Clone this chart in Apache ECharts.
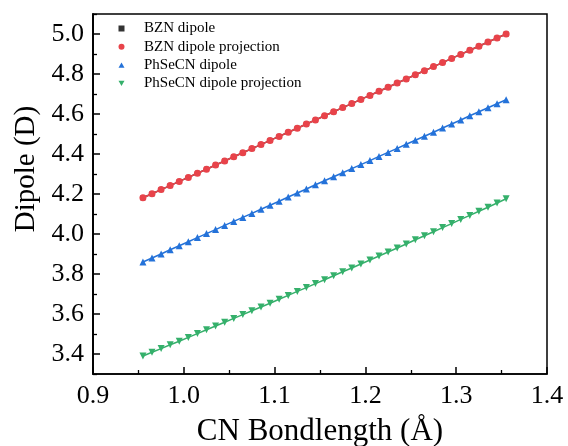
<!DOCTYPE html>
<html>
<head>
<meta charset="utf-8">
<script src="https://cdn.jsdelivr.net/npm/echarts@6/dist/echarts.min.js"></script>
<style>html,body{margin:0;padding:0;background:#fff}#c{width:568px;height:446px}</style>
</head>
<body>
<div id="c"></div>
<script>
const bondLength = [0.955,0.965,0.975,0.985,0.995,1.005,1.015,1.025,1.035,1.045,1.055,1.065,1.075,1.085,1.095,1.105,1.115,1.125,1.135,1.145,1.155,1.165,1.175,1.185,1.195,1.205,1.215,1.225,1.235,1.245,1.255,1.265,1.275,1.285,1.295,1.305,1.315,1.325,1.335,1.345,1.355];
const bznDipole = [4.181,4.201,4.222,4.242,4.263,4.283,4.304,4.324,4.345,4.365,4.386,4.406,4.427,4.447,4.468,4.488,4.509,4.529,4.550,4.570,4.591,4.611,4.632,4.652,4.673,4.693,4.714,4.734,4.755,4.775,4.796,4.816,4.837,4.857,4.878,4.898,4.919,4.939,4.960,4.980,5.000];
const bznProjection = [4.181,4.201,4.222,4.242,4.263,4.283,4.304,4.324,4.345,4.365,4.386,4.406,4.427,4.447,4.468,4.488,4.509,4.529,4.550,4.570,4.591,4.611,4.632,4.652,4.673,4.693,4.714,4.734,4.755,4.775,4.796,4.816,4.837,4.857,4.878,4.898,4.919,4.939,4.960,4.980,5.000];
const phsecnDipole = [3.860,3.880,3.900,3.921,3.941,3.961,3.982,4.002,4.022,4.043,4.063,4.083,4.103,4.124,4.144,4.164,4.185,4.205,4.225,4.246,4.266,4.286,4.306,4.327,4.347,4.367,4.388,4.408,4.428,4.449,4.469,4.489,4.509,4.530,4.550,4.570,4.591,4.611,4.631,4.651,4.671];
const phsecnProjection = [3.390,3.409,3.427,3.446,3.464,3.483,3.502,3.521,3.540,3.559,3.578,3.597,3.616,3.635,3.654,3.674,3.693,3.713,3.732,3.752,3.771,3.791,3.811,3.830,3.850,3.870,3.890,3.910,3.930,3.950,3.971,3.991,4.011,4.032,4.052,4.073,4.093,4.114,4.134,4.155,4.176];
const xTicks = [0.9,1.0,1.1,1.2,1.3,1.4];
const yTicks = [3.4,3.6,3.8,4.0,4.2,4.4,4.6,4.8,5.0];
const yMinorTicks = [3.3,3.5,3.7,3.9,4.1,4.3,4.5,4.7,4.9,5.1];
const seriesNames = ['BZN dipole','BZN dipole projection','PhSeCN dipole','PhSeCN dipole projection'];

const serif = 'Liberation Serif, Times New Roman, serif';
const pair = (ys) => bondLength.map((x, i) => [x, ys[i]]);
const downTri = 'path://M0,0 L10,0 L5,9 Z';
const upTri = 'path://M5,0 L10,9 L0,9 Z';
const square = 'path://M0,0 L10,0 L10,10 L0,10 Z';

const chart = echarts.init(document.getElementById('c'), null, {renderer: 'canvas'});
chart.setOption({
  animation: false,
  backgroundColor: '#fff',
  grid: {left: 93, right: 21, top: 14, bottom: 72, show: true, borderColor: '#000', borderWidth: 1.5,
         backgroundColor: 'transparent', containLabel: false, outerBoundsMode: 'none'},
  legend: {
    orient: 'vertical', left: 113.5, top: 16,
    itemWidth: 6, itemHeight: 6, itemGap: 3.3,
    textStyle: {fontFamily: serif, fontSize: 15, color: '#000', lineHeight: 15, padding: [0, 0, 0, 14.5]},
    data: [
      {name: seriesNames[0], icon: square},
      {name: seriesNames[1], icon: 'circle'},
      {name: seriesNames[2], icon: upTri},
      {name: seriesNames[3], icon: downTri}
    ]
  },
  xAxis: {
    type: 'value', min: 0.9, max: 1.4, interval: 0.1,
    name: 'CN Bondlength (Å)', nameLocation: 'middle', nameGap: 42,
    nameTextStyle: {fontFamily: serif, fontSize: 31, color: '#000'},
    axisLine: {show: true, lineStyle: {color: '#000', width: 1.5}},
    axisTick: {show: true, inside: true, length: 7, lineStyle: {color: '#000', width: 1.5}},
    minorTick: {show: true, splitNumber: 2, length: 4, lineStyle: {color: '#000', width: 1.3}},
    axisLabel: {fontFamily: serif, fontSize: 26, color: '#000', margin: 9, formatter: v => v.toFixed(1)},
    splitLine: {show: false}
  },
  yAxis: [{
    type: 'value', min: 3.3, max: 5.1,
    name: 'Dipole (D)', nameLocation: 'middle', nameGap: 52,
    nameTextStyle: {fontFamily: serif, fontSize: 29, color: '#000', padding: [0, 0, 0, 50]},
    axisLine: {show: true, lineStyle: {color: '#000', width: 1.5}},
    axisTick: {show: true, inside: true, length: 7, lineStyle: {color: '#000', width: 1.5}, customValues: yTicks},
    axisLabel: {fontFamily: serif, fontSize: 26, color: '#000', margin: 9, formatter: v => v.toFixed(1), customValues: yTicks},
    splitLine: {show: false}
  }, {
    type: 'value', min: 3.3, max: 5.1, position: 'left', offset: 0,
    axisLine: {show: true, lineStyle: {color: '#000', width: 1.5}},
    axisTick: {show: true, inside: true, length: 4, lineStyle: {color: '#000', width: 1.3}, customValues: yMinorTicks},
    axisLabel: {show: false, customValues: yMinorTicks},
    splitLine: {show: false}
  }],
  series: [
    {name: seriesNames[0], type: 'line', data: pair(bznDipole), symbol: 'rect', symbolSize: 5,
     itemStyle: {color: '#333333'}, lineStyle: {color: '#333333', width: 1.5}},
    {name: seriesNames[1], type: 'line', data: pair(bznProjection), symbol: 'circle', symbolSize: 7,
     itemStyle: {color: '#e8434a'}, lineStyle: {color: '#e8434a', width: 1.5}},
    {name: seriesNames[2], type: 'line', data: pair(phsecnDipole), symbol: 'triangle', symbolSize: 7,
     itemStyle: {color: '#2472d9'}, lineStyle: {color: '#2472d9', width: 1.5}},
    {name: seriesNames[3], type: 'line', data: pair(phsecnProjection), symbol: 'triangle', symbolRotate: 180, symbolSize: 7,
     itemStyle: {color: '#35b06b'}, lineStyle: {color: '#35b06b', width: 1.5}}
  ]
});
</script>
</body>
</html>
